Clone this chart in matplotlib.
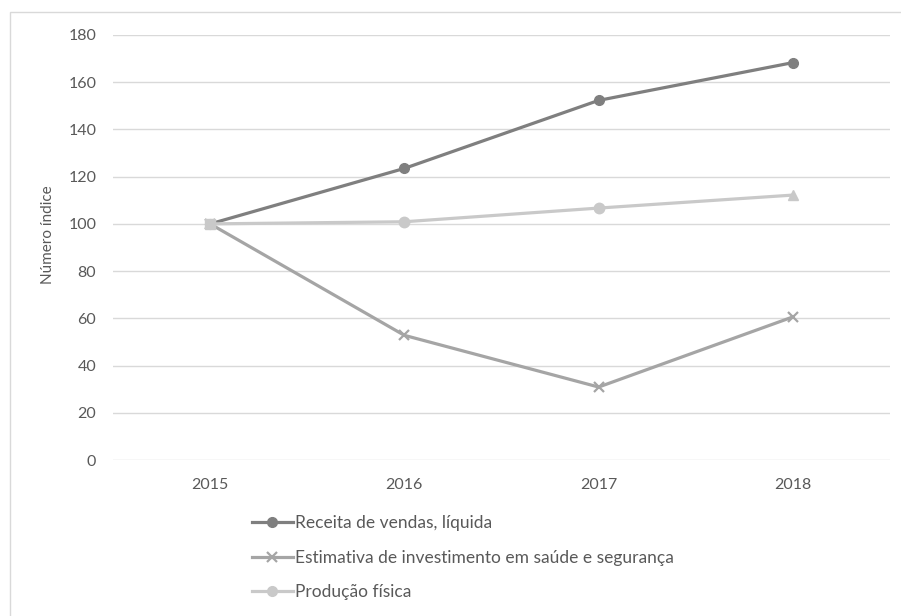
import matplotlib.pyplot as plt
from matplotlib.lines import Line2D
from matplotlib.patches import Rectangle

# index numbers, base year 2015 = 100
years = ['2015', '2016', '2017', '2018']
receita = [100, 123.5, 152.3, 168.3]
investimento = [100, 52.8, 30.9, 60.6]
producao = [100, 100.9, 106.7, 112.2]

series_names = ['Receita de vendas, líquida',
                'Estimativa de investimento em saúde e segurança',
                'Produção física']
yticks = [0, 20, 40, 60, 80, 100, 120, 140, 160, 180]

plt.rcParams['font.family'] = ['Lato', 'DejaVu Sans']
text_col = '#595959'
c_rec, c_inv, c_prod = '#7f7f7f', '#a5a5a5', '#c9c9c9'
lw = 2.3

fig = plt.figure(figsize=(9.01, 6.16), dpi=100)
ax = fig.add_axes([113 / 901, 1 - 460 / 616, 777 / 901, 425 / 616])

# light frame around the chart area
fig.patches.append(Rectangle((10 / 901, -0.1), 2, 1 - 12 / 616 + 0.1,
                             transform=fig.transFigure, fill=False,
                             edgecolor='#d9d9d9', linewidth=1))

x = list(range(len(years)))
ax.plot(x, receita, color=c_rec, lw=lw, marker='o', ms=7, zorder=3)
ax.plot(x, investimento, color=c_inv, lw=lw, marker='x', ms=7,
        mew=1.6, zorder=3)
ax.plot(x, producao, color=c_prod, lw=lw, zorder=4)
# markers on the production series change from point to point
prod_markers = ['s', 'o', 'o', '^']
for xi, yi, m in zip(x, producao, prod_markers):
    ax.plot(xi, yi, marker=m, ms=7.5, color=c_prod, zorder=5)

ax.set_xlim(-0.5, 3.5)
ax.set_ylim(0, 180)
ax.set_yticks(yticks)
ax.set_xticks(x)
ax.set_xticklabels(years)
ax.grid(axis='y', color='#d9d9d9', lw=1)
ax.set_axisbelow(True)
for s in ax.spines.values():
    s.set_visible(False)
ax.tick_params(length=0, labelcolor=text_col, labelsize=11.5)
ax.tick_params(axis='y', pad=12)
ax.tick_params(axis='x', pad=13)

ax.set_ylabel('Número índice', color=text_col, fontsize=11)
ax.yaxis.set_label_coords(-0.075, 0.53)

handles = [
    Line2D([], [], color=c_rec, lw=lw, marker='o', ms=7),
    Line2D([], [], color=c_inv, lw=lw, marker='x', ms=7, mew=1.6),
    Line2D([], [], color=c_prod, lw=lw, marker='o', ms=7),
]
leg = fig.legend(handles, series_names, loc='upper left',
                 bbox_to_anchor=(252 / 901, 1 - 515 / 616),
                 frameon=False, fontsize=12.5, handlelength=2.35,
                 handletextpad=0.15, labelspacing=1.07,
                 borderaxespad=0, borderpad=0)
for t in leg.get_texts():
    t.set_color(text_col)

fig.savefig('out.png', dpi=100)
